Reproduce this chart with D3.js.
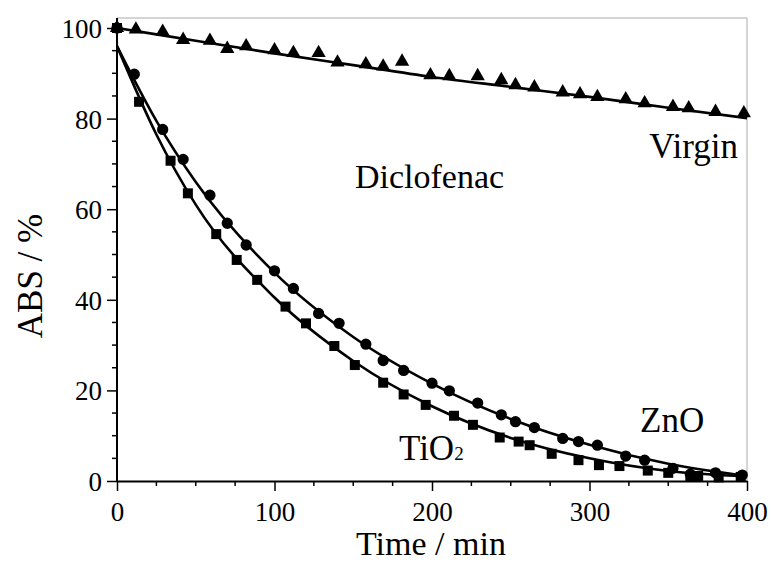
<!DOCTYPE html>
<html>
<head>
<meta charset="utf-8">
<script src="https://cdn.jsdelivr.net/npm/d3@7"></script>
<style>
  body { margin: 0; background: #fff; }
  svg text { font-family: "Liberation Serif", "Times New Roman", serif; }
</style>
</head>
<body>
<svg width="771" height="579"></svg>
<script>
// measured points (time in min, ABS in %)
const virginT = [0, 12, 29, 42, 59, 70, 82, 100, 112, 128, 140, 158, 169, 181, 199, 211, 229, 244, 253, 265, 283, 294, 305, 323, 335, 353, 363, 380, 398]
const virginV = [100, 99.7, 99.2, 97.4, 97.2, 95.4, 96.0, 95.1, 94.5, 94.5, 92.4, 92.0, 91.5, 92.6, 89.6, 89.4, 89.4, 88.5, 87.4, 86.9, 85.8, 85.4, 84.8, 84.3, 83.4, 82.6, 82.3, 81.5, 81.2]

const znoT = [0, 11, 29, 42, 59, 70, 82, 100, 112, 128, 141, 158, 169, 182, 200, 211, 229, 244, 253, 265, 283, 293, 305, 323, 335, 353, 364, 380, 397]
const znoV = [100, 89.8, 77.6, 71.0, 63.1, 56.9, 52.1, 46.4, 42.5, 37.0, 34.8, 30.2, 26.6, 24.4, 21.6, 19.9, 17.2, 14.6, 13.1, 11.8, 9.4, 8.7, 7.9, 5.5, 4.6, 2.8, 1.5, 1.8, 1.3]

const tioT = [0, 14, 34, 45, 63, 76, 89, 107, 120, 138, 151, 169, 182, 196, 214, 226, 243, 255, 262, 276, 293, 306, 319, 337, 350, 364, 369, 382, 396]
const tioV = [100, 83.7, 70.7, 63.5, 54.5, 48.8, 44.4, 38.5, 34.8, 29.8, 25.6, 21.7, 19.1, 16.8, 14.4, 12.4, 9.6, 8.7, 7.9, 6.0, 4.6, 3.5, 3.3, 2.3, 1.8, 0.9, 1.1, 0.8, 0.9]

// fitted curves
const fitT = [0, 25, 50, 100, 150, 200, 250, 300, 350, 400]
const virginFit = [100, 98.6, 97.2, 94.4, 91.8, 89.2, 87.0, 84.8, 82.4, 80.1]
const znoFit = [96, 79.5, 66, 46, 31.8, 21.5, 13.7, 8.0, 3.8, 1.1]
const tioFit = [96, 76.5, 61, 40.5, 26.5, 16.5, 9.5, 5.0, 2.2, 1.0]

const xTicks = [0, 100, 200, 300, 400]
const yTicks = [0, 20, 40, 60, 80, 100]

const svg = d3.select('svg')
const m = { left: 117, right: 747, top: 18, bottom: 481 }
const serif = '"Liberation Serif", "Times New Roman", serif'

const x = d3.scaleLinear().domain([0, 400]).range([m.left, m.right])
const y = d3.scaleLinear().domain([0, 100]).range([m.bottom, 28])

// frame (thin grey top/right)
svg.append('path')
  .attr('d', `M${m.left},${m.top}H${m.right}V${m.bottom}`)
  .attr('fill', 'none')
  .attr('stroke', '#aaa')
  .attr('stroke-width', 1)

// minor ticks
const xMinor = d3.range(25, 400, 25).filter(d => d % 100 !== 0)
const yMinor = d3.range(5, 100, 5).filter(d => d % 20 !== 0)

svg.append('g')
  .selectAll('line').data(xMinor).join('line')
  .attr('x1', d => x(d)).attr('x2', d => x(d))
  .attr('y1', m.bottom).attr('y2', m.bottom + 5)
  .attr('stroke', '#000').attr('stroke-width', 1.5)

svg.append('g')
  .selectAll('line').data(yMinor).join('line')
  .attr('y1', d => y(d)).attr('y2', d => y(d))
  .attr('x1', m.left).attr('x2', m.left - 5)
  .attr('stroke', '#000').attr('stroke-width', 1.5)

const xAxis = svg.append('g')
  .attr('transform', `translate(0,${m.bottom})`)
  .call(d3.axisBottom(x).tickValues(xTicks).tickSize(10).tickSizeOuter(0))
  .attr('font-family', serif)
  .attr('font-size', 27)
xAxis.select('.domain').attr('stroke-width', 2)
xAxis.selectAll('.tick line').attr('stroke-width', 1.5)
xAxis.selectAll('.tick text')
  .attr('y', 40).attr('dy', 0)
  .attr('fill', '#000')

const yAxis = svg.append('g')
  .attr('transform', `translate(${m.left},0)`)
  .call(d3.axisLeft(y).tickValues(yTicks).tickSize(10).tickSizeOuter(0))
  .attr('font-family', serif)
  .attr('font-size', 27)
yAxis.select('.domain').attr('d', `M0,${m.bottom}V${m.top}`).attr('stroke-width', 2)
yAxis.selectAll('.tick line').attr('stroke-width', 1.5)
yAxis.selectAll('.tick text')
  .attr('x', -15).attr('dy', '0.35em')
  .attr('fill', '#000')

// fits
const line = d3.line()
  .x(d => x(d[0]))
  .y(d => y(d[1]))
  .curve(d3.curveMonotoneX)

;[virginFit, znoFit, tioFit].forEach(vals => {
  svg.append('path')
    .datum(fitT.map((t, i) => [t, vals[i]]))
    .attr('d', line)
    .attr('fill', 'none')
    .attr('stroke', '#000')
    .attr('stroke-width', 2.6)
})

// markers
const sym = (type, size) => d3.symbol().type(type).size(size)

svg.append('g')
  .selectAll('path').data(tioT.map((t, i) => [t, tioV[i]])).join('path')
  .attr('transform', d => `translate(${x(d[0])},${y(d[1])})`)
  .attr('d', sym(d3.symbolSquare, 100))
  .attr('fill', '#000')

svg.append('g')
  .selectAll('path').data(znoT.map((t, i) => [t, znoV[i]])).join('path')
  .attr('transform', d => `translate(${x(d[0])},${y(d[1])})`)
  .attr('d', sym(d3.symbolCircle, 100))
  .attr('fill', '#000')

svg.append('g')
  .selectAll('path').data(virginT.map((t, i) => [t, virginV[i]])).join('path')
  .attr('transform', d => `translate(${x(d[0])},${y(d[1])})`)
  .attr('d', sym(d3.symbolTriangle, 88))
  .attr('fill', '#000')

// labels
svg.append('text')
  .attr('x', 431).attr('y', 555)
  .attr('text-anchor', 'middle')
  .style('font-size', '34px')
  .text('Time / min')

svg.append('text')
  .attr('transform', 'translate(42,276) rotate(-90)')
  .attr('text-anchor', 'middle')
  .style('font-size', '35px')
  .text('ABS / %')

svg.append('text')
  .attr('x', 355).attr('y', 188)
  .style('font-size', '34px')
  .text('Diclofenac')

svg.append('text')
  .attr('x', 738).attr('y', 158)
  .attr('text-anchor', 'end')
  .style('font-size', '35px')
  .text('Virgin')

svg.append('text')
  .attr('x', 640).attr('y', 432)
  .style('font-size', '35px')
  .text('ZnO')

const tio = svg.append('text')
  .attr('x', 399).attr('y', 460)
  .style('font-size', '35px')
tio.append('tspan').text('TiO')
tio.append('tspan').style('font-size', '19px').text('2')
</script>
</body>
</html>
